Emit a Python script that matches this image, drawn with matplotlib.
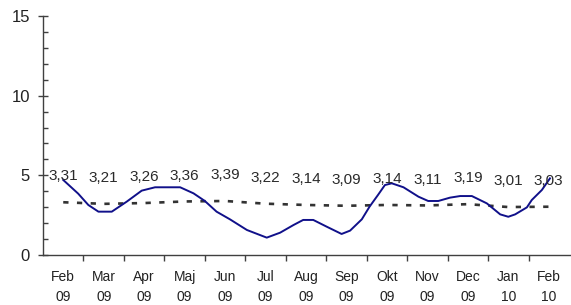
import matplotlib
matplotlib.use("Agg")
import matplotlib.pyplot as plt
from matplotlib import font_manager as fm
from matplotlib.ticker import FixedLocator, NullFormatter, FixedFormatter, MultipleLocator

# ---- data ----
months = ["Feb\n09", "Mar\n09", "Apr\n09", "Maj\n09", "Jun\n09", "Jul\n09", "Aug\n09",
          "Sep\n09", "Okt\n09", "Nov\n09", "Dec\n09", "Jan\n10", "Feb\n10"]
avg_values = [3.31, 3.21, 3.26, 3.36, 3.39, 3.22, 3.14, 3.09, 3.14, 3.11, 3.19, 3.01, 3.03]
avg_labels = ["3,31", "3,21", "3,26", "3,36", "3,39", "3,22", "3,14", "3,09", "3,14",
              "3,11", "3,19", "3,01", "3,03"]
# daily series: position in months (0 = Feb 09) and value
daily_pos = [0.00, 0.37, 0.62, 0.87, 1.20, 1.57, 1.94, 2.27, 2.89, 3.22, 3.50, 3.79, 4.12,
             4.54, 5.03, 5.36, 5.69, 5.93, 6.18, 6.51, 6.88, 7.09, 7.38, 7.57, 7.78, 7.95,
             8.12, 8.41, 8.78, 9.02, 9.27, 9.56, 9.81, 10.10, 10.47, 10.80, 11.00, 11.17,
             11.46, 11.58, 11.83, 12.03]
daily_val = [4.71, 3.85, 3.14, 2.72, 2.72, 3.35, 4.04, 4.25, 4.25, 3.87, 3.39, 2.72, 2.24,
             1.57, 1.09, 1.40, 1.88, 2.20, 2.20, 1.78, 1.32, 1.53, 2.24, 3.03, 3.77, 4.39,
             4.50, 4.25, 3.66, 3.39, 3.39, 3.60, 3.70, 3.70, 3.24, 2.55, 2.40, 2.55,
             2.99, 3.45, 4.08, 4.81]
y_ticks = [0, 5, 10, 15]

def pick(fams):
    for f in fams:
        try:
            fm.findfont(f, fallback_to_default=False)
            return f
        except Exception:
            pass
    return "DejaVu Sans"

reg = pick(["Liberation Sans", "Arial"])
narrow = pick(["Liberation Sans Narrow", "Arial Narrow"])
has_narrow = narrow != "DejaVu Sans"
if not has_narrow:
    narrow = reg
lab_size = 12 if has_narrow else 11
tick_size = 11 if has_narrow else 10

fig = plt.figure(figsize=(5.71, 3.05), dpi=100)
ax = fig.add_axes([43/571, 50/305, 1 - 43/571, 239/305])
ax.set_xlim(-0.5, 12.55)
ax.set_ylim(0, 15)

x = list(range(len(avg_values)))
ax.plot(daily_pos, daily_val, color="#10108a", lw=1.4, zorder=3, solid_joinstyle="round")
ax.plot(x, avg_values, color="#333333", lw=1.9, linestyle=(0, (2.0, 3.2)), zorder=2)

for xi, v, lab in zip(x, avg_values, avg_labels):
    ax.annotate(lab, (xi, v), xytext=(0, 15.8), textcoords="offset points",
                ha="center", va="baseline", fontsize=lab_size, family=narrow, color="#2a2a2a")

for s in ["top", "right"]:
    ax.spines[s].set_visible(False)
for s in ["left", "bottom"]:
    ax.spines[s].set_color("#404040")
    ax.spines[s].set_linewidth(1.0)

# y axis
ax.set_yticks(y_ticks)
ax.set_yticklabels([str(t) for t in y_ticks], family=reg, fontsize=12, color="#222222")
ax.yaxis.set_minor_locator(MultipleLocator(1))
ax.tick_params(axis="y", which="major", direction="inout", length=7, width=1, color="#404040", pad=6)
ax.tick_params(axis="y", which="minor", direction="in", length=3.5, width=1, color="#404040")

# x axis: ticks at boundaries, labels at centers
ax.xaxis.set_major_locator(FixedLocator([i + 0.5 for i in range(12)]))
ax.xaxis.set_major_formatter(NullFormatter())
ax.xaxis.set_minor_locator(FixedLocator(x))
ax.xaxis.set_minor_formatter(FixedFormatter(months))
ax.tick_params(axis="x", which="major", direction="out", length=4, width=1, color="#404040")
ax.tick_params(axis="x", which="minor", length=0, pad=11)
for t in ax.xaxis.get_minorticklabels():
    t.set_family(narrow)
    t.set_fontsize(tick_size)
    t.set_color("#222222")
    t.set_linespacing(1.5)

fig.savefig("out.png", dpi=100)
